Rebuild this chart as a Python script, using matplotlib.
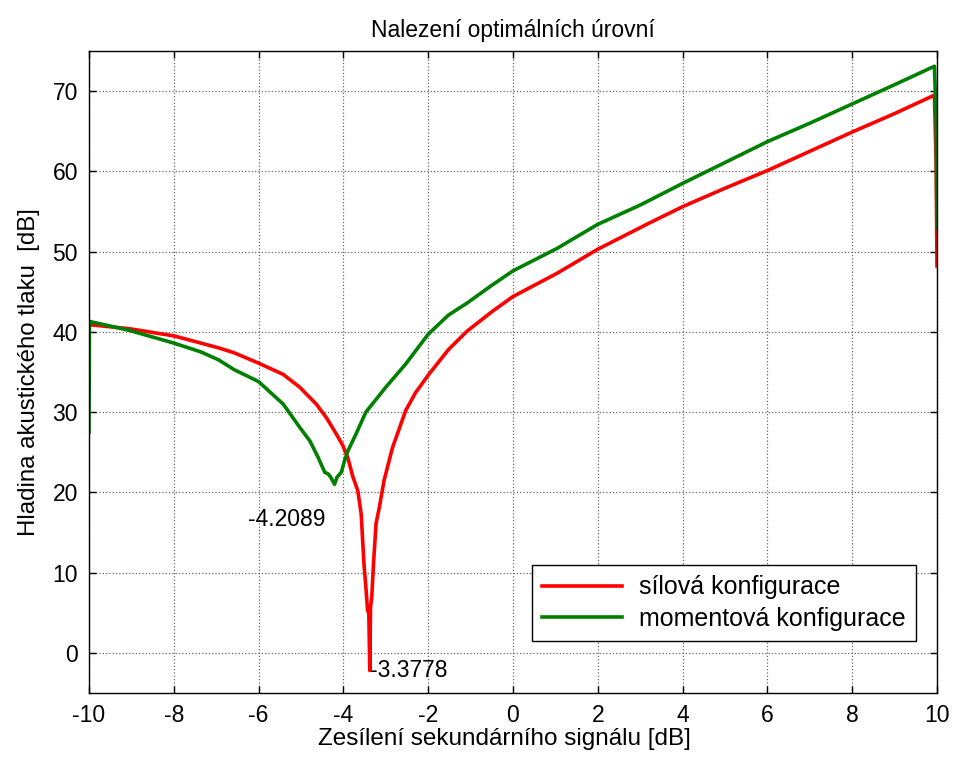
import matplotlib
matplotlib.use("Agg")
import matplotlib.pyplot as plt

plt.rcParams['font.family'] = ['Liberation Sans', 'DejaVu Sans']

# Gain of the secondary signal [dB] vs. resulting sound pressure level [dB]
red_x = [-10.0, -9.06, -8.0, -7.36, -6.94, -6.58, -6.0, -5.42, -5.03, -4.64,
         -4.40, -4.17, -4.01, -3.89, -3.78, -3.66, -3.58, -3.55, -3.51, -3.47,
         -3.43, -3.40, -3.3778, -3.36, -3.33, -3.29, -3.23, -3.15, -3.04, -2.84,
         -2.53, -2.30, -2.0, -1.52, -1.08, -0.5, 0.0, 1.04, 2.0, 3.23,
         4.0, 5.0, 6.0, 7.0, 8.0, 9.0, 9.94, 9.98, 10.0]
red_y = [40.9, 40.4, 39.5, 38.6, 38.0, 37.4, 36.1, 34.7, 33.1, 31.0,
         29.3, 27.3, 25.8, 24.2, 22.0, 20.2, 17.3, 14.4, 10.7, 8.2,
         5.3, 4.9, -2.2, 5.7, 7.0, 11.1, 16.1, 18.2, 21.5, 25.6,
         30.2, 32.4, 34.6, 37.8, 40.1, 42.5, 44.4, 47.3, 50.3, 53.6,
         55.6, 57.9, 60.1, 62.5, 64.9, 67.2, 69.5, 61.0, 48.2]

green_x = [-10.0, -9.99, -9.06, -8.0, -7.36, -6.94, -6.58, -6.0, -5.42, -5.03,
           -4.79, -4.60, -4.44, -4.36, -4.30, -4.2089, -4.15, -4.05, -3.97, -3.89,
           -3.70, -3.47, -3.0, -2.53, -2.0, -1.52, -1.08, -0.5, 0.0, 1.04,
           2.0, 3.0, 4.0, 5.0, 6.0, 7.0, 8.0, 9.0, 9.94, 9.98, 10.0]
green_y = [27.5, 41.3, 40.2, 38.6, 37.5, 36.5, 35.3, 33.8, 31.0, 28.1,
           26.4, 24.4, 22.5, 22.3, 21.9, 21.0, 21.9, 22.5, 24.0, 25.2,
           27.3, 30.0, 33.1, 36.0, 39.7, 42.1, 43.6, 45.8, 47.6, 50.4,
           53.4, 55.8, 58.5, 61.1, 63.7, 66.0, 68.4, 70.8, 73.1, 66.5, 53.0]

series_labels = ['sílová konfigurace', 'momentová konfigurace']
x_ticks = [-10, -8, -6, -4, -2, 0, 2, 4, 6, 8, 10]
y_ticks = [0, 10, 20, 30, 40, 50, 60, 70]

red_min_x, red_min_y = -3.3778, -2.2
green_min_label = '-4.2089'

fig = plt.figure(figsize=(9.56, 7.6), dpi=100)
ax = fig.add_axes([0.0931, 0.0882, 0.8870, 0.8447])

ax.plot(red_x, red_y, color='#ff0000', lw=2.6, label=series_labels[0])
ax.plot(green_x, green_y, color='#008000', lw=2.6, label=series_labels[1])

ax.set_xlim(-10, 10)
ax.set_ylim(-5, 75)
ax.set_xticks(x_ticks)
ax.set_yticks(y_ticks)
ax.set_xticklabels([str(v) for v in x_ticks])
ax.tick_params(direction='in', top=True, right=True, length=5, width=1,
               labelsize=16.5, pad=8)
ax.grid(True, color='0.4', linestyle=':', linewidth=0.9)
for s in ax.spines.values():
    s.set_linewidth(1.0)

# minimum markers
ax.text(red_min_x, red_min_y, f'{red_min_x:.4f}', ha='left', va='center', fontsize=16.5)
ax.text(-6.25, 16.6, green_min_label, ha='left', va='center', fontsize=16.5)

ax.set_title('Nalezení optimálních úrovní', fontsize=16.5, pad=10)
ax.set_xlabel('Zesílení sekundárního signálu [dB]', fontsize=17.5, labelpad=1)
ax.xaxis.label.set_x(0.49)
ax.set_ylabel('Hladina akustického tlaku  [dB]', fontsize=17.3, labelpad=9)

leg = ax.legend(loc='lower right', bbox_to_anchor=(0.975, 0.081), borderaxespad=0,
                fontsize=18, handlelength=3.2, handletextpad=0.7,
                borderpad=0.4, labelspacing=0.3, fancybox=False, framealpha=1)
leg.get_frame().set_edgecolor('black')
leg.get_frame().set_linewidth(1.0)

fig.savefig('out.png', dpi=100)
